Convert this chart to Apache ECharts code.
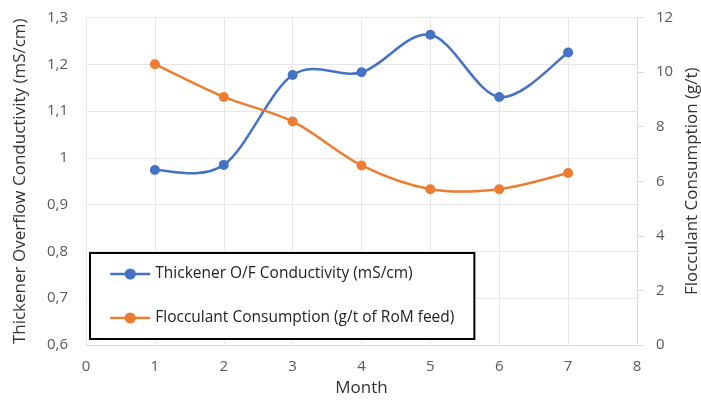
<!DOCTYPE html>
<html>
<head>
<meta charset="utf-8">
<script src="https://cdn.jsdelivr.net/npm/echarts@6/dist/echarts.min.js"></script>
<style>html,body{margin:0;padding:0;background:#fff}#c{width:701px;height:400px}</style>
</head>
<body>
<div id="c"></div>
<script>
var months = [1, 2, 3, 4, 5, 6, 7];
var conductivity = [0.974, 0.985, 1.177, 1.183, 1.263, 1.130, 1.225];
var flocculant = [10.29, 9.09, 8.19, 6.58, 5.71, 5.71, 6.30];
var seriesNames = ['Thickener O/F Conductivity (mS/cm)', 'Flocculant Consumption (g/t of RoM feed)'];
var BLUE = '#4472C4', ORANGE = '#ED7D31';

var FONT = 'Open Sans';
var TXT = '#595959';
function pair(xs, ys) { return xs.map(function (x, i) { return [x, ys[i]]; }); }

// Excel-like smoothed curve (Catmull-Rom Bezier) drawn through the axis scales
function curveRenderer(xs, ys, color) {
  return function (params, api) {
    var i = params.dataIndex, n = xs.length;
    if (i >= n - 1) return null;
    function P(k) { k = Math.max(0, Math.min(n - 1, k)); return api.coord([xs[k], ys[k]]); }
    var p0 = P(i - 1), p1 = P(i), p2 = P(i + 1), p3 = P(i + 2);
    return {
      type: 'bezierCurve',
      shape: {
        x1: p1[0], y1: p1[1], x2: p2[0], y2: p2[1],
        cpx1: p1[0] + (p2[0] - p0[0]) / 6, cpy1: p1[1] + (p2[1] - p0[1]) / 6,
        cpx2: p2[0] - (p3[0] - p1[0]) / 6, cpy2: p2[1] - (p3[1] - p1[1]) / 6
      },
      style: { stroke: color, lineWidth: 2.5, fill: null },
      silent: true
    };
  };
}

var chart = echarts.init(document.getElementById('c'), null, { renderer: 'canvas' });
chart.setOption({
  animation: false,
  textStyle: { fontFamily: FONT },
  grid: { left: 86, right: 64, top: 17.5, bottom: 55, outerBoundsMode: 'none', containLabel: false },
  legend: {
    orient: 'vertical',
    left: 90, top: 253,
    data: [
      { name: seriesNames[0], lineStyle: { color: BLUE, width: 2.5, opacity: 1 } },
      { name: seriesNames[1], lineStyle: { color: ORANGE, width: 2.5, opacity: 1 } }
    ],
    backgroundColor: '#fff',
    borderColor: '#000', borderWidth: 2,
    padding: [13, 20, 13, 19],
    itemGap: 28,
    itemWidth: 40, itemHeight: 14,
    textStyle: { fontFamily: FONT, fontSize: 15.5, color: '#222' }
  },
  xAxis: {
    type: 'value', min: 0, max: 8, interval: 1,
    name: 'Month', nameLocation: 'middle', nameGap: 35,
    nameTextStyle: { fontFamily: FONT, fontSize: 17, color: '#333' },
    axisLine: { show: true, lineStyle: { color: '#d9d9d9' } },
    axisTick: { show: false },
    axisLabel: { fontFamily: FONT, fontSize: 15, color: TXT, margin: 14 },
    splitLine: { show: true, lineStyle: { color: '#e6e6e6' } }
  },
  yAxis: [{
    type: 'value', min: 0.6, max: 1.3, interval: 0.1,
    name: 'Thickener Overflow Conductivity (mS/cm)', nameLocation: 'middle', nameGap: 57,
    nameTextStyle: { fontFamily: FONT, fontSize: 17, color: '#333' },
    axisLine: { show: false },
    axisTick: { show: false },
    axisLabel: {
      fontFamily: FONT, fontSize: 15, color: TXT, margin: 18,
      formatter: function (v) { return String(+v.toFixed(1)).replace('.', ','); }
    },
    splitLine: { show: true, lineStyle: { color: '#e6e6e6' } }
  }, {
    type: 'value', min: 0, max: 12, interval: 2, position: 'right',
    name: 'Flocculant Consumption (g/t)', nameLocation: 'middle', nameGap: 46,
    nameTextStyle: { fontFamily: FONT, fontSize: 17, color: '#333' },
    axisLine: { show: true, lineStyle: { color: '#d9d9d9' } },
    axisTick: { show: true, length: 7, lineStyle: { color: '#d9d9d9' } },
    axisLabel: { fontFamily: FONT, fontSize: 15, color: TXT, margin: 19 },
    splitLine: { show: false }
  }],
  series: [{
    name: 'curve-a', type: 'custom', yAxisIndex: 0, z: 2,
    data: pair(months, conductivity),
    renderItem: curveRenderer(months, conductivity, BLUE)
  }, {
    name: 'curve-b', type: 'custom', yAxisIndex: 1, z: 2,
    data: pair(months, flocculant),
    renderItem: curveRenderer(months, flocculant, ORANGE)
  }, {
    name: seriesNames[0], type: 'line', yAxisIndex: 0, z: 3,
    data: pair(months, conductivity),
    symbol: 'circle', symbolSize: 10,
    lineStyle: { color: BLUE, width: 2.5, opacity: 0 },
    itemStyle: { color: BLUE }
  }, {
    name: seriesNames[1], type: 'line', yAxisIndex: 1, z: 3,
    data: pair(months, flocculant),
    symbol: 'circle', symbolSize: 10,
    lineStyle: { color: ORANGE, width: 2.5, opacity: 0 },
    itemStyle: { color: ORANGE }
  }]
});
</script>
</body>
</html>
